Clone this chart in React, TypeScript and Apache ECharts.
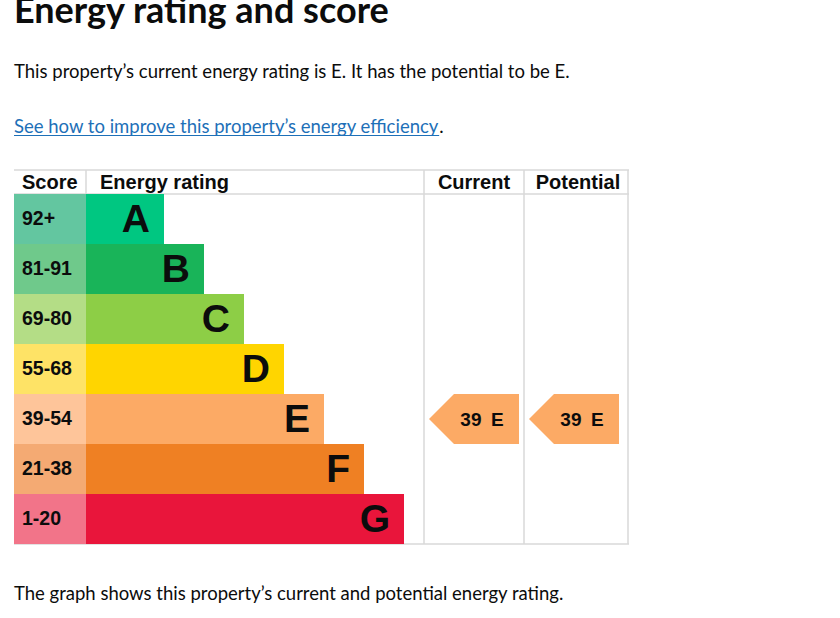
import { useEffect, useRef } from "react";
import * as echarts from "echarts";

const BANDS = ["A", "B", "C", "D", "E", "F", "G"];
const SCORE_RANGES = ["92+", "81-91", "69-80", "55-68", "39-54", "21-38", "1-20"];
// bar lengths in px as drawn (each band 40px longer than the one above)
const BAND_LENGTHS = [78, 118, 158, 198, 238, 278, 318];
const CURRENT_SCORE = 39;
const CURRENT_BAND = "E";
const POTENTIAL_SCORE = 39;
const POTENTIAL_BAND = "E";

const BAND_COLORS = ["#00c781", "#19b459", "#8dce46", "#ffd500", "#fcaa65", "#ef8023", "#e9153b"];
const SCORE_COLORS = ["#63c6a0", "#6fc98b", "#b4dd86", "#fee366", "#fec59a", "#f4aa73", "#f27489"];

const TEXT = "#0b0c0c";
const LINK = "#1d70b8";
const RULE = "#d8d8d8";
const GDS = "Lato, 'Noto Sans', sans-serif";
const ARIAL = "'Liberation Sans', Arial, sans-serif";
const ARROW = "path://M0,25 L25,0 L90,0 L90,50 L25,50 Z";

function measure(text: string, font: string) {
  const ctx = document.createElement("canvas").getContext("2d")!;
  ctx.font = font;
  return ctx.measureText(text).width;
}

function line(x1: number, y1: number, x2: number, y2: number) {
  return { type: "line", silent: true, z: 0, shape: { x1, y1, x2, y2 }, style: { stroke: RULE, lineWidth: 1.5 } };
}

function text(str: string, x: number, y: number, style: any) {
  return { type: "text", silent: true, x, y, style: { text: str, fill: TEXT, verticalAlign: "middle", ...style } };
}

export default function App() {
  const ref = useRef<HTMLDivElement>(null);
  useEffect(() => {
    document.body.style.margin = "0";
    if (!ref.current) return;
    const chart = echarts.init(ref.current, null, { renderer: "svg" });

    const bodyFont = `18.5px ${GDS}`;
    const linkText = "See how to improve this property\u2019s energy efficiency";
    const linkW = measure(linkText, bodyFont);
    const hdr = { font: `bold 20px ${ARIAL}` };
    const arrow = (score: number, band: string, xIdx: number) => ({
      type: "scatter", xAxisIndex: xIdx, yAxisIndex: xIdx, z: 3,
      symbol: ARROW, symbolSize: [90, 50],
      itemStyle: { color: BAND_COLORS[BANDS.indexOf(band)], opacity: 1 },
      label: {
        show: true, position: "inside", offset: [8, 0], color: TEXT,
        fontFamily: ARIAL, fontWeight: "bold", fontSize: 19,
        formatter: () => `${score}\u2002${band}`,
      },
      data: [[0.5, BANDS.indexOf(band)]],
    });

    chart.setOption({
      animation: false,
      backgroundColor: "#fff",
      grid: [
        { left: 14, top: 194, width: 72, height: 350 },
        { left: 86, top: 194, width: 338, height: 350 },
        { left: 424, top: 194, width: 100, height: 350 },
        { left: 524, top: 194, width: 100, height: 350 },
      ],
      xAxis: [1, 338, 1, 1].map((max, i) => ({ type: "value", gridIndex: i, min: 0, max, show: false })),
      yAxis: [0, 1, 2, 3].map((i) => ({ type: "category", gridIndex: i, data: BANDS, inverse: true, show: false })),
      series: [
        {
          type: "bar", xAxisIndex: 0, yAxisIndex: 0, barWidth: "100%", z: 2,
          data: SCORE_RANGES.map((_, i) => ({ value: 1, itemStyle: { color: SCORE_COLORS[i] } })),
          label: {
            show: true, position: "insideLeft", distance: 8, offset: [0, -1.5], color: TEXT,
            fontFamily: ARIAL, fontWeight: "bold", fontSize: 19.5,
            formatter: (p: any) => SCORE_RANGES[p.dataIndex],
          },
        },
        {
          type: "bar", xAxisIndex: 1, yAxisIndex: 1, barWidth: "100%", z: 2,
          data: BAND_LENGTHS.map((v, i) => ({ value: v, itemStyle: { color: BAND_COLORS[i] } })),
          label: {
            show: true, position: "insideRight", distance: 14, offset: [0, -1], color: TEXT,
            fontFamily: ARIAL, fontWeight: "bold", fontSize: 39,
            formatter: (p: any) => BANDS[p.dataIndex],
          },
        },
        arrow(CURRENT_SCORE, CURRENT_BAND, 2),
        arrow(POTENTIAL_SCORE, POTENTIAL_BAND, 3),
      ],
      graphic: [
        text("Energy rating and score", 14, 9, { font: `bold 36px ${GDS}` }),
        text("This property\u2019s current energy rating is E. It has the potential to be E.", 14, 71, { font: bodyFont }),
        text(linkText, 14, 126, { font: bodyFont, fill: LINK }),
        { type: "line", silent: true, shape: { x1: 14, y1: 135.5, x2: 14 + linkW, y2: 135.5 }, style: { stroke: LINK, lineWidth: 1 } },
        text(".", 14 + linkW, 126, { font: bodyFont }),
        text("The graph shows this property\u2019s current and potential energy rating.", 14, 593, { font: bodyFont }),
        line(14, 170, 629, 170),
        line(14, 194, 629, 194),
        line(14, 544, 629, 544),
        line(86, 170, 86, 194),
        line(424, 170, 424, 544),
        line(524, 170, 524, 544),
        line(628, 170, 628, 544),
        text("Score", 22, 182, hdr),
        text("Energy rating", 100, 182, hdr),
        text("Current", 474, 182, { ...hdr, align: "center" }),
        text("Potential", 578, 182, { ...hdr, align: "center" }),
      ],
    });
    return () => chart.dispose();
  }, []);
  return <div ref={ref} style={{ width: 840, height: 618 }} />;
}
